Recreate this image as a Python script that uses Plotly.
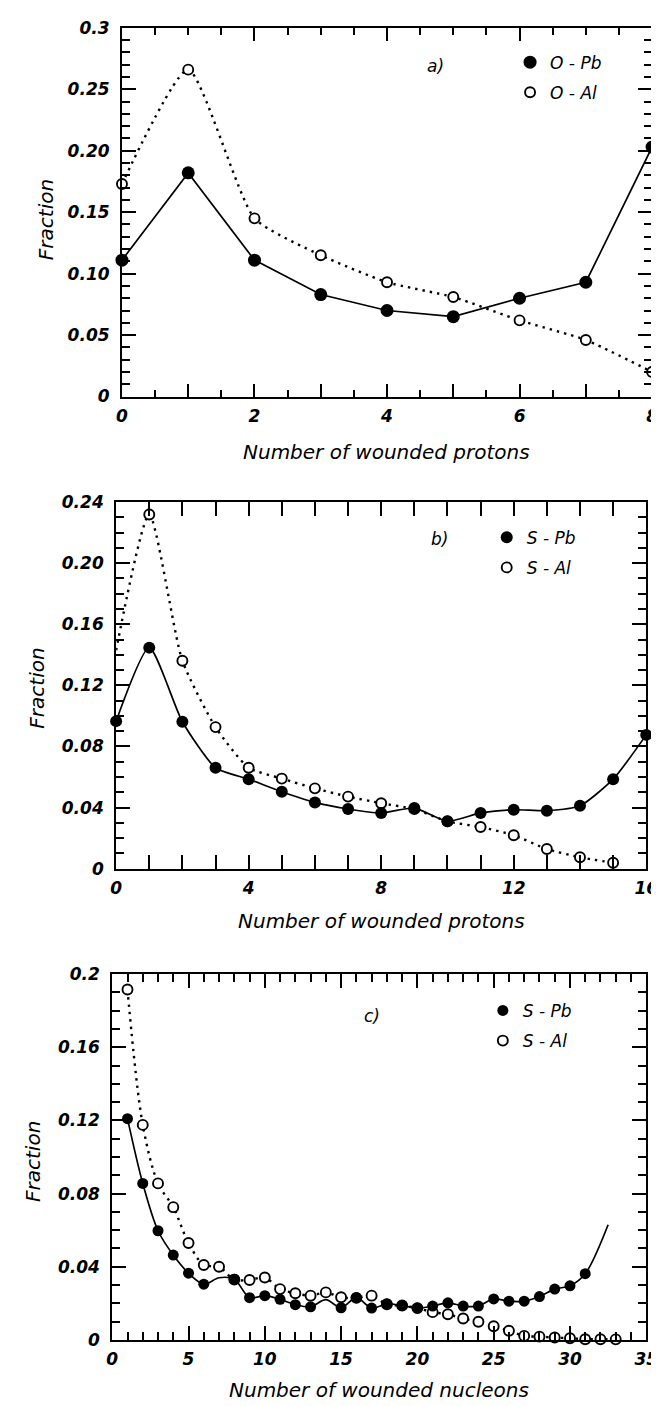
import plotly.graph_objects as go

# ---------------- data ----------------
# panel a
a_x = [0, 1, 2, 3, 4, 5, 6, 7, 8]
a_opb = [0.111, 0.182, 0.111, 0.083, 0.070, 0.065, 0.080, 0.093, 0.203]
a_oal = [0.173, 0.266, 0.145, 0.115, 0.093, 0.081, 0.062, 0.046, 0.020]

# panel b
b_x_pb = list(range(0, 17))
b_spb = [0.0966, 0.1447, 0.0962, 0.0661, 0.0586, 0.0504, 0.0434, 0.0391, 0.0365,
         0.0397, 0.0311, 0.0365, 0.0386, 0.0380, 0.0412, 0.0586, 0.0876]
b_x_al = list(range(0, 16))
b_sal = [0.143, 0.2318, 0.1361, 0.0927, 0.0661, 0.0590, 0.0526, 0.0472, 0.0429,
         0.039, 0.031, 0.0273, 0.0219, 0.0129, 0.0075, 0.0039]
b_sal_unmarked = [0]

# panel c
c_x_pb = list(range(1, 32)) + [32.5]
c_spb = [0.121, 0.0856, 0.0597, 0.0464, 0.0365, 0.0305, 0.034, 0.0332, 0.0231, 0.0242,
         0.0222, 0.0193, 0.0181, 0.022, 0.0176, 0.0231, 0.0174, 0.0197, 0.0188, 0.0174,
         0.0185, 0.0203, 0.0185, 0.0185, 0.0224, 0.0212, 0.0212, 0.0237, 0.0278, 0.0296,
         0.0362, 0.063]
c_spb_unmarked = [7, 14, 32.5]
c_x_al = list(range(1, 34))
c_sal = [0.1916, 0.1176, 0.0856, 0.0726, 0.053, 0.041, 0.040, 0.033, 0.0328, 0.0341,
         0.0278, 0.0255, 0.0242, 0.026, 0.0233, 0.023, 0.0242, 0.0195, 0.0188, 0.0174,
         0.0152, 0.014, 0.0117, 0.0099, 0.0075, 0.005, 0.0022, 0.0018, 0.0013, 0.0009,
         0.0004, 0.0004, 0.0003]

# tick labels
a_xtick_vals = list(range(0, 9))
a_xtick_text = ["0", "", "2", "", "4", "", "6", "", "8"]
a_ytick_vals = [0, 0.05, 0.10, 0.15, 0.20, 0.25, 0.30]
a_ytick_text = ["0", "0.05", "0.10", "0.15", "0.20", "0.25", "0.3"]
b_xtick_vals = list(range(0, 17))
b_xtick_text = [str(v) if v % 4 == 0 else "" for v in b_xtick_vals]
b_ytick_vals = [0, 0.04, 0.08, 0.12, 0.16, 0.20, 0.24]
b_ytick_text = ["0", "0.04", "0.08", "0.12", "0.16", "0.20", "0.24"]
c_xtick_vals = [0, 5, 10, 15, 20, 25, 30, 35]
c_xtick_text = ["0", "5", "10", "15", "20", "25", "30", "35"]
c_ytick_vals = [0, 0.04, 0.08, 0.12, 0.16, 0.2]
c_ytick_text = ["0", "0.04", "0.08", "0.12", "0.16", "0.2"]

W, H = 659, 1406
FONT = "DejaVu Sans"


def px_x(p):
    return p / W


def px_y(p):
    return 1 - p / H


def keep(xs, ys, unmarked):
    pts = [(x, y) for x, y in zip(xs, ys) if x not in unmarked]
    return [p[0] for p in pts], [p[1] for p in pts]


fig = go.Figure()


def add_pair(xs_pb, ys_pb, xs_al, ys_al, axn, names, legend, shape_pb, shape_al,
             sm_pb=1.0, sm_al=1.0, unm_pb=(), unm_al=(), msize=11, osize=9):
    xa = "x" if axn == 1 else f"x{axn}"
    ya = "y" if axn == 1 else f"y{axn}"
    fig.add_trace(go.Scatter(x=xs_al, y=ys_al, mode="lines", xaxis=xa, yaxis=ya,
                             line=dict(color="black", width=2.4, dash="2.4px,5px",
                                       shape=shape_al, smoothing=sm_al),
                             showlegend=False, hoverinfo="skip"))
    fig.add_trace(go.Scatter(x=xs_pb, y=ys_pb, mode="lines", xaxis=xa, yaxis=ya,
                             line=dict(color="black", width=1.7, shape=shape_pb,
                                       smoothing=sm_pb),
                             showlegend=False, hoverinfo="skip"))
    mx, my = keep(xs_pb, ys_pb, unm_pb)
    ox, oy = keep(xs_al, ys_al, unm_al)
    fig.add_trace(go.Scatter(x=ox, y=oy, mode="markers", xaxis=xa, yaxis=ya, name=names[1],
                             legend=legend, legendgroup=names[1] + legend, legendrank=2,
                             cliponaxis=False,
                             marker=dict(symbol="circle", size=osize, color="white",
                                         line=dict(color="black", width=1.9))))
    fig.add_trace(go.Scatter(x=mx, y=my, mode="markers", xaxis=xa, yaxis=ya, name=names[0],
                             legend=legend, legendgroup=names[0] + legend, legendrank=1,
                             cliponaxis=False,
                             marker=dict(symbol="circle", size=msize, color="black",
                                         line=dict(color="black", width=0))))


add_pair(a_x, a_opb, a_x, a_oal, 1, ["O - Pb", "O - Al"], "legend", "linear", "spline",
         sm_al=0.55, msize=13, osize=10)
add_pair(b_x_pb, b_spb, b_x_al, b_sal, 2, ["S - Pb", "S - Al"], "legend2", "spline", "spline",
         sm_pb=0.6, sm_al=0.6, unm_al=b_sal_unmarked, msize=12, osize=10)
add_pair(c_x_pb, c_spb, c_x_al, c_sal, 3, ["S - Pb", "S - Al"], "legend3", "spline", "spline",
         sm_pb=0.9, sm_al=0.9, unm_pb=c_spb_unmarked, msize=11, osize=10)

tickfont = dict(family=FONT, size=17, color="black", style="italic", weight="bold")


def axis(domain, rng, tv, tt, anchor, minor_dtick, major_len, minor_len, side,
         labels=True, overlaying=None, standoff=3):
    d = dict(range=rng, anchor=anchor, tickvals=tv, ticktext=tt, side=side,
             ticks="inside", ticklen=major_len, tickwidth=2, tickcolor="black",
             showline=True, linecolor="black", linewidth=2,
             showgrid=False, zeroline=False, tickfont=tickfont,
             showticklabels=labels, ticklabeloverflow="allow", ticklabelstandoff=standoff,
             minor=dict(dtick=minor_dtick, tick0=0, ticks="inside", ticklen=minor_len,
                        tickwidth=2, tickcolor="black", showgrid=False))
    if overlaying:
        d["overlaying"] = overlaying
    else:
        d["domain"] = domain
    return d


# plot-area pixel boxes
A = (111, 656, 10, 384)
B = (105, 650, 491, 863)
C = (101, 650, 970, 1341)


def dom(box):
    l, r, t, b = box
    return [px_x(l), px_x(r)], [px_y(b), px_y(t)]


ax_d, ay_d = dom(A)
bx_d, by_d = dom(B)
cx_d, cy_d = dom(C)

legend_common = dict(font=dict(family=FONT, size=17, color="black", style="italic"),
                     bgcolor="rgba(0,0,0,0)", borderwidth=0, xanchor="left", yanchor="top",
                     itemwidth=30, tracegroupgap=5, traceorder="grouped")

panels = [
    ("xaxis", "yaxis", "x", "y", ax_d, ay_d, [0, 8], [0, 0.3], a_xtick_vals, a_xtick_text,
     a_ytick_vals, a_ytick_text, 0.5, 0.01, 13, 7, 4),
    ("xaxis2", "yaxis2", "x2", "y2", bx_d, by_d, [0, 16], [0, 0.24], b_xtick_vals, b_xtick_text,
     b_ytick_vals, b_ytick_text, 1, 0.01, 14, 14, 5),
    ("xaxis3", "yaxis3", "x3", "y3", cx_d, cy_d, [0, 35], [0, 0.2], c_xtick_vals, c_xtick_text,
     c_ytick_vals, c_ytick_text, 1, 0.01, 14, 8, 6),
]

layout_axes = {}
for (xn, yn, xr, yr, xd, yd, xrng, yrng, xtv, xtt, ytv, ytt, xmi, ymi, xmaj, xmin_, k) in panels:
    layout_axes[xn] = axis(xd, xrng, xtv, xtt, yr, xmi, xmaj, xmin_, "bottom")
    layout_axes[yn] = axis(yd, yrng, ytv, ytt, xr, ymi, 14, 8, "left", standoff=7)
    # mirrored frame sides (top / right) as overlay axes
    layout_axes[f"xaxis{k}"] = axis(None, xrng, xtv, xtt, yr, xmi, xmaj, xmin_, "top",
                                    labels=False, overlaying=xr)
    layout_axes[f"yaxis{k}"] = axis(None, yrng, ytv, ytt, xr, ymi, 14, 8, "right",
                                    labels=False, overlaying=yr)
    fig.add_trace(go.Scatter(x=[None], y=[None], xaxis=f"x{k}", yaxis=yr, mode="markers",
                             showlegend=False, hoverinfo="skip"))
    fig.add_trace(go.Scatter(x=[None], y=[None], xaxis=xr, yaxis=f"y{k}", mode="markers",
                             showlegend=False, hoverinfo="skip"))

fig.update_layout(
    width=W, height=H, margin=dict(l=0, r=0, t=0, b=0),
    paper_bgcolor="white", plot_bgcolor="white",
    legend=dict(x=px_x(510), y=px_y(27), **legend_common),
    legend2=dict(x=px_x(486), y=px_y(509), **legend_common),
    legend3=dict(x=px_x(482), y=px_y(989), **legend_common),
    showlegend=True,
    **layout_axes,
)

annot_font = dict(family=FONT, size=17, color="black", style="italic")
title_font = dict(family=FONT, size=20, color="black", style="italic")


def note(text, xc, yc, font, angle=0):
    fig.add_annotation(text=text, x=px_x(xc), y=px_y(yc), xref="paper", yref="paper",
                       xanchor="center", yanchor="middle", showarrow=False,
                       textangle=angle, font=font)


note("a)", 433, 49, annot_font)
note("b)", 437, 529, annot_font)
note("c)", 368, 1012, annot_font)

for (xc, yc) in [(33, 205), (24, 680), (20, 1160)]:
    note("Fraction", xc, yc, title_font, angle=-90)
for (xc, yc, t) in [(383, 440, "Number of wounded protons"),
                    (378, 916, "Number of wounded protons"),
                    (375, 1392, "Number of wounded nucleons")]:
    note(t, xc, yc, title_font)

fig.write_html("out.html")
